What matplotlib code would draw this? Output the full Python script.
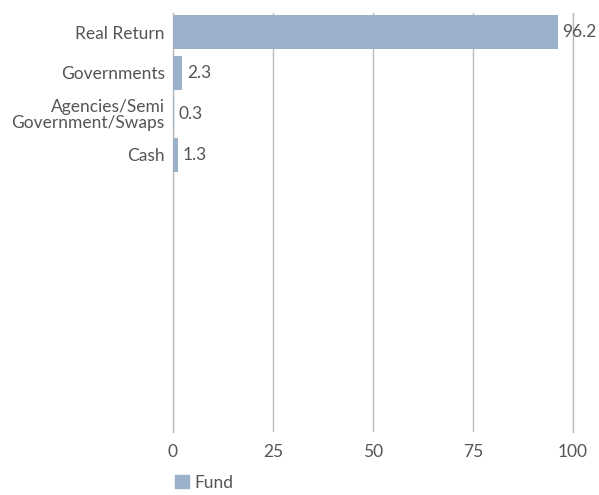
import matplotlib
matplotlib.use('Agg')
from matplotlib import pyplot as plt
from matplotlib.patches import Patch

categories = ['Real Return', 'Governments', 'Agencies/Semi\nGovernment/Swaps', 'Cash']
fund = [96.2, 2.3, 0.3, 1.3]
xticks = [0, 25, 50, 75, 100]

bar_color = '#9bb0c9'
text_color = '#555555'
grid_color = '#bbbbbb'

plt.rcParams['font.family'] = ['Lato', 'DejaVu Sans']

fig = plt.figure(figsize=(5.99, 4.95), dpi=100)
ax = fig.add_axes([0.2888, 0.1273, 0.6678, 0.8464])

ypos = list(range(len(categories)))
ax.barh(ypos, fund, height=0.84, color=bar_color, zorder=2)
for y, v in zip(ypos, fund):
    ax.text(v + 1.2, y, f'{v:.1f}', va='center', ha='left', fontsize=12.5, color=text_color, zorder=3)

ax.set_xlim(0, 100)
ax.set_ylim(9.756, -0.463)
ax.set_yticks(ypos)
ax.set_yticklabels(categories, fontsize=12.5, color=text_color, linespacing=0.95)
ax.set_xticks(xticks)
ax.set_xticklabels([str(t) for t in xticks], fontsize=12.5, color=text_color)
ax.tick_params(axis='both', length=0)
ax.tick_params(axis='x', pad=9)
ax.tick_params(axis='y', pad=6)
ax.xaxis.grid(True, color=grid_color, linewidth=1, zorder=0)
ax.set_axisbelow(True)
for s in ax.spines.values():
    s.set_visible(False)
ax.axvline(100, color=grid_color, linewidth=1, zorder=0, clip_on=False)
ax.axvline(0, color=grid_color, linewidth=1, zorder=1, clip_on=False)

fig.legend(handles=[Patch(color=bar_color, label='Fund')], loc='center left',
           bbox_to_anchor=(0.292, 0.025), frameon=False, fontsize=12.5,
           handlelength=0.8, handleheight=0.8, handletextpad=0.35,
           borderpad=0, borderaxespad=0, labelcolor=text_color)

fig.savefig('out.png', dpi=100)
